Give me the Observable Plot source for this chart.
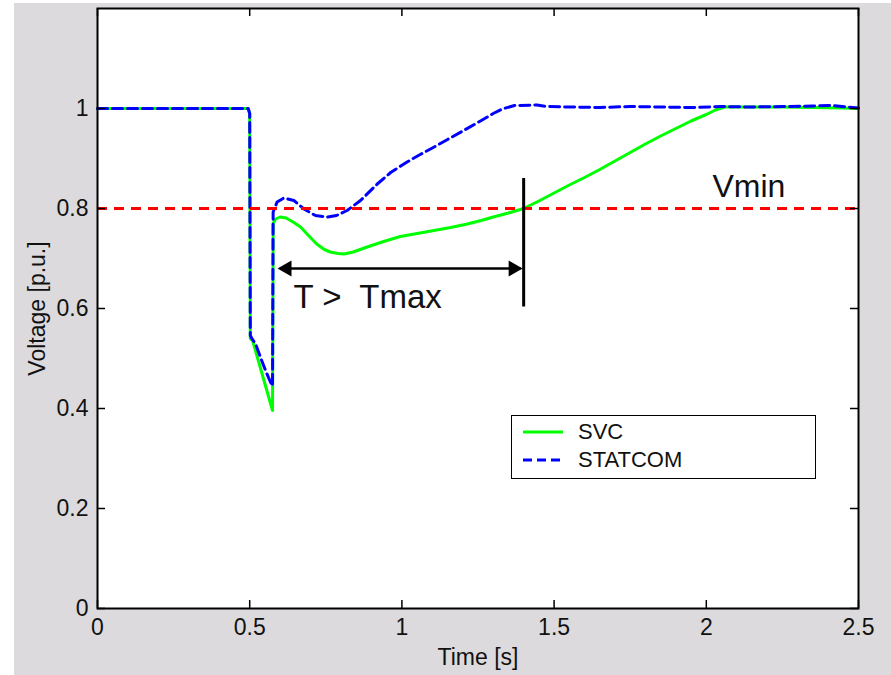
<!DOCTYPE html>
<html>
<head>
<meta charset="utf-8">
<script src="https://cdn.jsdelivr.net/npm/d3@7"></script>
<script src="https://cdn.jsdelivr.net/npm/@observablehq/plot@0.6"></script>
<style>
  body { margin: 0; background: #ffffff; }
  #wrap { position: relative; width: 891px; height: 675px; overflow: hidden; font-family: "Liberation Sans", Arial, sans-serif; }
  #chart { position: absolute; left: 14px; top: 3px; }
  #legend { position: absolute; left: 511px; top: 415px; width: 303px; height: 62px; background: #fff; border: 1.5px solid #000; }
  #legend .row { position: absolute; left: 0; height: 26px; display: flex; align-items: center; font-size: 22px; color: #111; }
  #legend svg { margin-left: 11px; margin-right: 15px; }
</style>
</head>
<body>
<div id="wrap">
  <div id="chart"></div>
  <div id="legend">
    <div class="row" style="top:3px"><svg width="40" height="6"><line x1="0" y1="3" x2="40" y2="3" stroke="#00ff00" stroke-width="3"/></svg>SVC</div>
    <div class="row" style="top:31px"><svg width="40" height="6"><line x1="0" y1="3" x2="40" y2="3" stroke="#0000ff" stroke-width="3" stroke-dasharray="9,5"/></svg>STATCOM</div>
  </div>
</div>
<script>
// Time axis (s) and voltage (p.u.)
const svcTime = [0, 0.495, 0.5, 0.502, 0.51, 0.575, 0.577, 0.585, 0.60, 0.62, 0.645, 0.667, 0.69, 0.72, 0.745, 0.765, 0.79, 0.81, 0.84, 0.886, 0.94, 0.995, 1.05, 1.105, 1.16, 1.215, 1.26, 1.30, 1.35, 1.40, 1.45, 1.50, 1.55, 1.60, 1.65, 1.70, 1.75, 1.80, 1.85, 1.90, 1.95, 2.00, 2.03, 2.06, 2.15, 2.25, 2.35, 2.45, 2.5];
const svcVolt = [1.0, 1.0, 0.99, 0.54, 0.535, 0.396, 0.77, 0.779, 0.783, 0.781, 0.772, 0.763, 0.748, 0.729, 0.718, 0.713, 0.710, 0.709, 0.713, 0.723, 0.734, 0.744, 0.750, 0.756, 0.762, 0.769, 0.776, 0.783, 0.791, 0.800, 0.815, 0.831, 0.847, 0.862, 0.878, 0.895, 0.912, 0.929, 0.945, 0.960, 0.975, 0.988, 0.997, 1.003, 1.003, 1.003, 1.002, 1.001, 1.0];

const statcomTime = [0, 0.495, 0.5, 0.502, 0.508, 0.519, 0.535, 0.552, 0.568, 0.575, 0.577, 0.59, 0.612, 0.645, 0.678, 0.716, 0.755, 0.785, 0.82, 0.864, 0.919, 0.963, 1.017, 1.06, 1.10, 1.15, 1.20, 1.258, 1.30, 1.33, 1.37, 1.444, 1.477, 1.55, 1.65, 1.75, 1.85, 1.95, 2.05, 2.15, 2.25, 2.35, 2.41, 2.5];
const statcomVolt = [1.0, 1.0, 0.99, 0.546, 0.539, 0.53, 0.503, 0.476, 0.453, 0.445, 0.793, 0.813, 0.821, 0.816, 0.799, 0.786, 0.783, 0.786, 0.796, 0.816, 0.849, 0.872, 0.893, 0.908, 0.921, 0.938, 0.955, 0.975, 0.990, 0.999, 1.006, 1.007, 1.004, 1.003, 1.002, 1.004, 1.003, 1.002, 1.004, 1.003, 1.004, 1.005, 1.006, 1.001];

const vmin = [0.8];
const xTicks = [0, 0.5, 1, 1.5, 2, 2.5];
const yTicks = [0, 0.2, 0.4, 0.6, 0.8, 1];

// Annotations (data coordinates)
const tLimitTime = [1.40];
const tLimitRange = [0.603, 0.86];
const arrowTimes = [0.60, 1.39];
const arrowVolt = [0.68];
const arrowHeadTimes = [0.622, 1.366];
const vminLabel = {text: "Vmin", t: 2.02, v: 0.843};
const tmaxLabel = {text: "T >\u00a0 Tmax", t: 0.644, v: 0.623};

const svc = svcTime.map((t, i) => ({t, v: svcVolt[i]}));
const statcom = statcomTime.map((t, i) => ({t, v: statcomVolt[i]}));

const W = 877, H = 672, ML = 83, MR = 33, MT = 5, MB = 67;
const fw = W - ML - MR, fh = H - MT - MB;
const fmt = d => String(d);

const chart = Plot.plot({
  width: W, height: H,
  marginLeft: ML, marginRight: MR, marginTop: MT, marginBottom: MB,
  x: {domain: [0, 2.5]},
  y: {domain: [0, 1.2]},
  style: {background: "#dcdadd", fontFamily: "'Liberation Sans', Arial, sans-serif", fontSize: "23px", color: "#111"},
  marks: [
    Plot.frame({fill: "white", stroke: null}),
    Plot.line(svc, {x: "t", y: "v", stroke: "#00ff00", strokeWidth: 3, strokeLinejoin: "round"}),
    Plot.line(statcom, {x: "t", y: "v", stroke: "#0000ff", strokeWidth: 3, strokeDasharray: "10,5"}),
    Plot.ruleY(vmin, {y: d => d, stroke: "#ff0000", strokeWidth: 3, strokeDasharray: "10,7"}),
    // annotations
    Plot.ruleX(tLimitTime, {x: d => d, y1: tLimitRange[0], y2: tLimitRange[1], stroke: "black", strokeWidth: 3}),
    Plot.link([arrowTimes], {x1: d => d[0], x2: d => d[1], y1: arrowVolt[0], y2: arrowVolt[0], stroke: "black", strokeWidth: 2.5}),
    Plot.dot(arrowHeadTimes, {x: d => d, y: arrowVolt[0], symbol: "triangle", r: 6, fill: "black", stroke: null, rotate: (d, i) => i === 0 ? -90 : 90}),
    Plot.text([vminLabel], {x: "t", y: "v", text: "text", fontSize: 32, textAnchor: "start", fill: "#111"}),
    Plot.text([tmaxLabel], {x: "t", y: "v", text: "text", fontSize: 33, textAnchor: "start", fill: "#111"}),
    // MATLAB-style inward ticks on all four sides
    Plot.ruleX(xTicks, {x: d => d, insetTop: fh - 8, stroke: "black", strokeWidth: 1.5}),
    Plot.ruleX(xTicks, {x: d => d, insetBottom: fh - 8, stroke: "black", strokeWidth: 1.5}),
    Plot.ruleY(yTicks, {y: d => d, insetRight: fw - 8, stroke: "black", strokeWidth: 1.5}),
    Plot.ruleY(yTicks, {y: d => d, insetLeft: fw - 8, stroke: "black", strokeWidth: 1.5}),
    Plot.frame({stroke: "black", strokeWidth: 2}),
    Plot.axisX(xTicks, {tickSize: 0, tickPadding: 10, tickFormat: fmt, label: "Time [s]", labelAnchor: "center", labelOffset: 56, labelArrow: "none"}),
    Plot.axisY(yTicks, {tickSize: 0, tickPadding: 9, tickFormat: fmt, label: "Voltage [p.u.]", labelAnchor: "center", labelOffset: 69, labelArrow: "none"})
  ]
});
document.getElementById("chart").appendChild(chart);
</script>
</body>
</html>
